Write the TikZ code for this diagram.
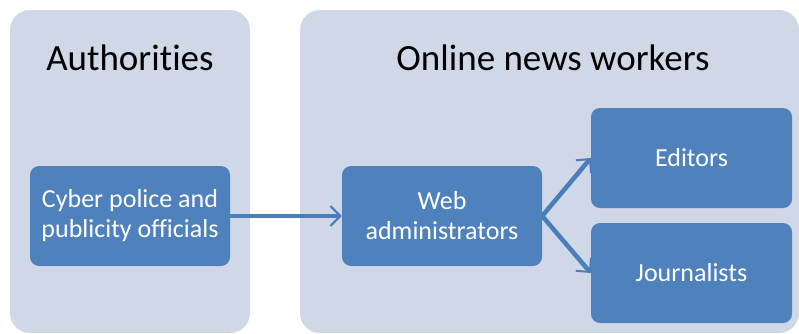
\documentclass[tikz,border=0pt]{standalone}
\usepackage{fontspec}
\setmainfont{Carlito}[Ligatures=NoCommon]
\usetikzlibrary{arrows.meta}
\definecolor{panelc}{HTML}{D0D8E8}
\definecolor{boxc}{HTML}{4F81BD}
\definecolor{arrc}{HTML}{4A7DBA}
\tikzset{
  panel/.style={fill=panelc, draw=none, rounded corners=20pt},
  bluebox/.style={fill=boxc, draw=none, rounded corners=9pt, text=white, align=center, font=\fontsize{26}{30}\selectfont, inner sep=0pt},
  title/.style={font=\fontsize{37}{42}\selectfont, text=black},
  conn/.style={draw=arrc, line width=4.5pt, -{Straight Barb[length=10pt,width=20pt,line width=2pt]}}
}
\begin{document}
\begin{tikzpicture}[x=1pt,y=-1pt]
\useasboundingbox (0,0) rectangle (799,333);
\fill[white] (0,0) rectangle (799,333);
\begin{scope}
\clip (0,0) rectangle (799,333);
\path[panel] (10,10) rectangle (250,333);
\path[panel] (300,10) rectangle (799,333);
\end{scope}
\node[title] (auth) at (130,58) {Authorities};
\node[title] (onw) at (553,58) {Online news workers};
\node[bluebox, minimum width=200pt, minimum height=100pt] (cyber) at (130,216) {Cyber police and\\publicity officials};
\node[bluebox, minimum width=200pt, minimum height=100pt] (web) at (442,216) {Web\\administrators};
\node[bluebox, minimum width=201pt, minimum height=100pt] (ed) at (691.5,158) {Editors};
\node[bluebox, minimum width=201pt, minimum height=100pt] (jo) at (691.5,273) {Journalists};
\draw[conn] (cyber.east) -- (web.west);
\draw[conn] (web.east) -- (ed.west);
\draw[conn] (web.east) -- (jo.west);
\end{tikzpicture}
\end{document}
